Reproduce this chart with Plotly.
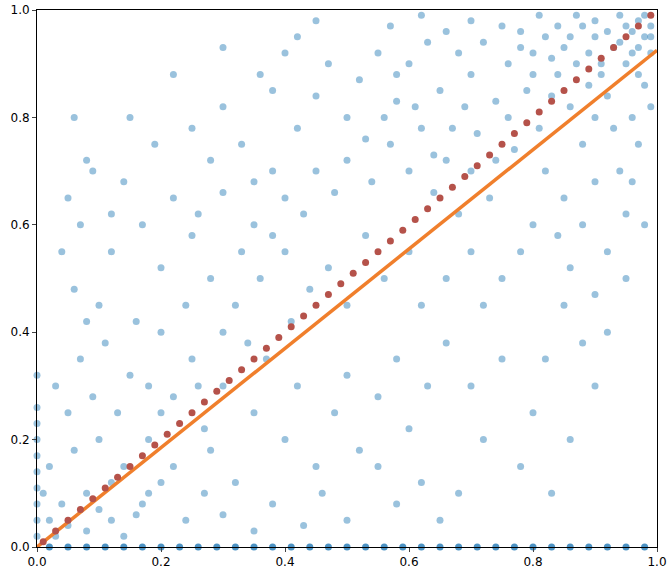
import plotly.graph_objects as go

# scattered samples (thinned)
pts = [
 (0.92,0.96),(0.95,0.97),(0.97,0.98),(0.98,0.95),(0.99,0.97),(0.93,0.93),(0.96,0.92),(0.9,0.95),(0.88,0.97),(0.94,0.99),
 (0.85,0.93),(0.87,0.9),(0.91,0.88),(0.89,0.86),(0.84,0.88),(0.82,0.95),(0.8,0.92),(0.78,0.96),(0.83,0.84),(0.86,0.82),
 (0.92,0.84),(0.95,0.9),(0.97,0.88),(0.99,0.92),(0.98,0.86),(0.96,0.8),(0.93,0.78),(0.9,0.8),(0.88,0.75),(0.81,0.78),
 (0.79,0.85),(0.76,0.9),(0.74,0.83),(0.77,0.74),(0.72,0.94),(0.7,0.88),(0.68,0.92),(0.65,0.85),(0.63,0.94),(0.6,0.9),
 (0.58,0.83),(0.55,0.92),(0.52,0.87),(0.5,0.8),(0.47,0.9),(0.45,0.84),(0.42,0.78),(0.4,0.92),(0.38,0.7),(0.36,0.88),
 (0.62,0.78),(0.66,0.72),(0.7,0.7),(0.73,0.65),(0.68,0.62),(0.64,0.66),(0.6,0.7),(0.57,0.75),(0.54,0.68),(0.5,0.72),
 (0.48,0.66),(0.45,0.7),(0.43,0.62),(0.4,0.65),(0.38,0.58),(0.35,0.6),(0.33,0.55),(0.3,0.66),(0.28,0.5),(0.25,0.58),
 (0.82,0.7),(0.85,0.65),(0.88,0.6),(0.92,0.55),(0.95,0.62),(0.9,0.68),(0.8,0.6),(0.78,0.55),(0.75,0.5),(0.72,0.45),
 (0.7,0.55),(0.66,0.5),(0.62,0.45),(0.6,0.55),(0.56,0.5),(0.53,0.58),(0.5,0.45),(0.47,0.52),(0.44,0.48),(0.41,0.42),
 (0.85,0.45),(0.88,0.38),(0.82,0.35),(0.9,0.3),(0.8,0.25),(0.86,0.2),(0.78,0.15),(0.83,0.1),(0.75,0.35),(0.7,0.3),
 (0.66,0.38),(0.63,0.3),(0.6,0.22),(0.58,0.35),(0.55,0.28),(0.52,0.18),(0.5,0.32),(0.48,0.25),(0.45,0.15),(0.42,0.3),
 (0.4,0.2),(0.37,0.35),(0.35,0.25),(0.32,0.12),(0.3,0.3),(0.27,0.22),(0.25,0.35),(0.22,0.28),(0.2,0.4),(0.18,0.3),
 (0.72,0.2),(0.68,0.1),(0.65,0.05),(0.62,0.12),(0.58,0.08),(0.55,0.15),(0.5,0.05),(0.46,0.1),(0.43,0.04),(0.38,0.08),
 (0.35,0.03),(0.3,0.06),(0.27,0.1),(0.24,0.05),(0.2,0.12),(0.17,0.08),(0.14,0.15),(0.12,0.05),(0.1,0.2),(0.08,0.1),
 (0.06,0.18),(0.05,0.25),(0.04,0.08),(0.03,0.3),(0.02,0.15),(0.07,0.35),(0.09,0.28),(0.11,0.38),(0.13,0.25),(0.15,0.32),
 (0.16,0.42),(0.18,0.2),(0.2,0.25),(0.22,0.15),(0.24,0.45),(0.26,0.3),(0.28,0.18),(0.1,0.45),(0.08,0.42),(0.06,0.48),
 (0.04,0.55),(0.05,0.65),(0.07,0.6),(0.09,0.7),(0.12,0.55),(0.14,0.68),(0.17,0.6),(0.19,0.75),(0.22,0.65),(0.25,0.78),
 (0.28,0.72),(0.3,0.82),(0.33,0.75),(0.35,0.68),(0.38,0.85),(0.42,0.95),(0.45,0.98),(0.3,0.93),(0.22,0.88),(0.15,0.8),
 (0.08,0.72),(0.06,0.8),(0.12,0.62),(0.2,0.52),(0.26,0.62),(0.32,0.45),(0.36,0.5),(0.4,0.55),(0.34,0.38),(0.3,0.4),
 (0.02,0.05),(0.01,0.1),(0.03,0.02),(0.05,0.04),(0.08,0.03),(0.1,0.07),(0.12,0.12),(0.14,0.02),(0.16,0.06),(0.18,0.1),
 (0.0,0.02),(0.0,0.08),(0.0,0.14),(0.0,0.2),(0.0,0.26),(0.0,0.32),(0.0,0.05),(0.0,0.11),(0.0,0.17),(0.0,0.23),
 (0.9,0.47),(0.92,0.4),(0.86,0.52),(0.84,0.58),(0.94,0.7),(0.97,0.75),(0.99,0.82),(0.96,0.68),(0.98,0.6),(0.95,0.5),
 (0.76,0.8),(0.74,0.72),(0.71,0.77),(0.69,0.82),(0.67,0.78),(0.64,0.73),(0.61,0.82),(0.58,0.88),(0.56,0.8),(0.53,0.76),
 (0.8,0.88),(0.83,0.91),(0.86,0.95),(0.89,0.92),(0.91,0.9),(0.94,0.94),(0.96,0.96),(0.97,0.93),(0.98,0.99),(0.99,0.95),
 (0.9,0.98),(0.87,0.99),(0.84,0.97),(0.81,0.99),(0.78,0.93),(0.75,0.97),(0.7,0.98),(0.66,0.96),(0.62,0.99),(0.57,0.97),
]
scatter_x = [p[0] for p in pts]
scatter_y = [p[1] for p in pts]

# points lying on y = 0
floor_x = [0.02,0.05,0.08,0.11,0.14,0.17,0.2,0.23,0.26,0.29,0.32,0.35,0.38,0.41,0.44,0.47,0.5,0.53,0.56,
           0.59,0.62,0.65,0.68,0.71,0.74,0.77,0.8,0.83,0.86,0.89,0.92,0.95,0.98]
floor_y = [0.0] * len(floor_x)

# binned means (red dots)
bin_x = [0.01,0.03,0.05,0.07,0.09,0.11,0.13,0.15,0.17,0.19,0.21,0.23,0.25,0.27,0.29,0.31,0.33,0.35,0.37,0.39,
         0.41,0.43,0.45,0.47,0.49,0.51,0.53,0.55,0.57,0.59,0.61,0.63,0.65,0.67,0.69,0.71,0.73,0.75,0.77,0.79,
         0.81,0.83,0.85,0.87,0.89,0.91,0.93,0.95,0.97,0.99]
bin_y = [0.01,0.03,0.05,0.07,0.09,0.11,0.13,0.15,0.17,0.19,0.21,0.23,0.25,0.27,0.29,0.31,0.33,0.35,0.37,0.39,
         0.41,0.43,0.45,0.47,0.49,0.51,0.53,0.55,0.57,0.59,0.61,0.63,0.65,0.67,0.69,0.71,0.73,0.75,0.77,0.79,
         0.81,0.83,0.85,0.87,0.89,0.91,0.93,0.95,0.97,0.99]

fit_x = [0.0, 1.0]
fit_y = [0.0, 0.925]

fig = go.Figure()
fig.add_trace(go.Scatter(x=scatter_x, y=scatter_y, mode='markers', cliponaxis=False,
                         marker=dict(color='rgba(31,119,180,0.45)', size=7)))
fig.add_trace(go.Scatter(x=floor_x, y=floor_y, mode='markers', cliponaxis=False,
                         marker=dict(color='rgba(31,119,180,0.8)', size=7)))
fig.add_trace(go.Scatter(x=fit_x, y=fit_y, mode='lines', line=dict(color='#f07f2c', width=3.5)))
fig.add_trace(go.Scatter(x=bin_x, y=bin_y, mode='markers', cliponaxis=False,
                         marker=dict(color='#b5524a', size=7)))

axis = dict(range=[0, 1], tickvals=[0, 0.2, 0.4, 0.6, 0.8, 1.0],
            ticktext=['0.0', '0.2', '0.4', '0.6', '0.8', '1.0'],
            showgrid=False, zeroline=False, showline=True, mirror=True, automargin=False,
            linecolor='black', linewidth=1, ticks='outside', ticklen=4,
            tickfont=dict(family='DejaVu Sans', size=12, color='black'))
fig.update_xaxes(**axis)
fig.update_yaxes(**axis)
fig.update_layout(width=670, height=576, showlegend=False, plot_bgcolor='white',
                  paper_bgcolor='white', margin=dict(l=37, r=13, t=10, b=29))
fig.write_html("out.html", config={'displayModeBar': False},
               post_script="document.body.style.margin='0';")
